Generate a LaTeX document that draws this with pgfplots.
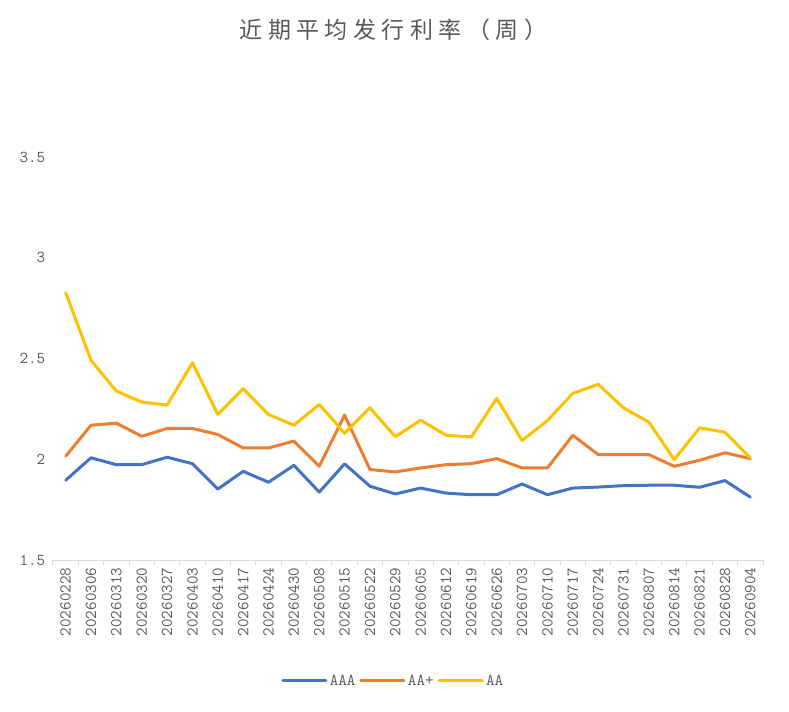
\documentclass[border=0pt]{standalone}
\usepackage{fontspec}
\usepackage{pgfplots}
\pgfplotsset{compat=1.18}
\usepackage{pgfplotstable}
\newfontfamily\cjk{Noto Sans CJK SC}
\newcommand\tickfont{\ttfamily}
\definecolor{cAAA}{HTML}{4472C4}
\definecolor{cAAp}{HTML}{ED7D31}
\definecolor{cAA}{HTML}{FFC000}
\definecolor{txt}{HTML}{595959}
\definecolor{axl}{HTML}{D9D9D9}

\pgfplotstableread{
x AAA AAp AA
0 1.896 2.015 2.827
1 2.007 2.169 2.491
2 1.973 2.179 2.338
3 1.973 2.114 2.284
4 2.010 2.153 2.269
5 1.978 2.153 2.479
6 1.852 2.123 2.222
7 1.940 2.056 2.350
8 1.886 2.056 2.222
9 1.970 2.090 2.169
10 1.837 1.965 2.272
11 1.977 2.219 2.129
12 1.866 1.949 2.255
13 1.828 1.937 2.112
14 1.857 1.957 2.194
15 1.832 1.973 2.119
16 1.824 1.978 2.111
17 1.824 2.003 2.302
18 1.877 1.957 2.093
19 1.824 1.957 2.192
20 1.857 2.119 2.327
21 1.862 2.023 2.372
22 1.869 2.023 2.255
23 1.871 2.023 2.184
24 1.871 1.965 1.998
25 1.861 1.995 2.156
26 1.894 2.032 2.134
27 1.812 2.003 2.007
}\data

\begin{document}
\begin{tikzpicture}
\path[use as bounding box] (0,0) rectangle (789bp,712bp);
\begin{axis}[
  at={(53bp,152bp)}, anchor=south west,
  width=710bp, height=403bp, scale only axis,
  xmin=-0.5, xmax=27.5, ymin=1.5, ymax=3.5,
  axis x line*=bottom, axis y line*=left,
  x axis line style={-, draw=axl, line width=1bp},
  y axis line style={draw=none},
  xtick={0,...,27},
  xticklabels={20260228,20260306,20260313,20260320,20260327,20260403,20260410,20260417,20260424,20260430,20260508,20260515,20260522,20260529,20260605,20260612,20260619,20260626,20260703,20260710,20260717,20260724,20260731,20260807,20260814,20260821,20260828,20260904},
  major x tick style={draw=none},
  minor xtick={-0.5,0.5,...,27.5},
  minor x tick style={draw=axl, line width=1bp},
  tick align=outside, minor tick length=5bp,
  ytick={1.5,2,2.5,3,3.5}, yticklabels={1.5,2,2.5,3,3.5},
  ytick style={draw=none},
  tick label style={font=\tickfont\fontsize{16.6bp}{18bp}\selectfont, text=txt},
  xticklabel style={rotate=90, anchor=east},
  yticklabel style={anchor=east},
  clip=false,
  legend style={at={(0.4796,-0.300)}, anchor=center, draw=none, fill=none,
    font=\tickfont\fontsize{16.6bp}{18bp}\selectfont, text=txt,
    nodes={inner sep=2.5bp},
    /tikz/every even column/.append style={column sep=1.5bp}},
  legend columns=3,
  legend image code/.code={\draw[#1] (0bp,0bp) -- (43bp,0bp);},
]
\addplot[cAAA, line width=3bp, line join=round, line cap=round] table[x=x, y=AAA] {\data};
\addlegendentry{AAA}
\addplot[cAAp, line width=3bp, line join=round, line cap=round] table[x=x, y=AAp] {\data};
\addlegendentry{AA+}
\addplot[cAA, line width=3bp, line join=round, line cap=round] table[x=x, y=AA] {\data};
\addlegendentry{AA}
\end{axis}
\node[text=txt, font=\cjk\fontsize{23bp}{26bp}\selectfont] at (393.5bp,682bp)
  {近\hspace{5.5bp}期\hspace{5.5bp}平\hspace{5.5bp}均\hspace{5.5bp}发\hspace{5.5bp}行\hspace{5.5bp}利\hspace{5.5bp}率\hspace{5.5bp}（\hspace{5.5bp}周\hspace{5.5bp}）};
\end{tikzpicture}
\end{document}
